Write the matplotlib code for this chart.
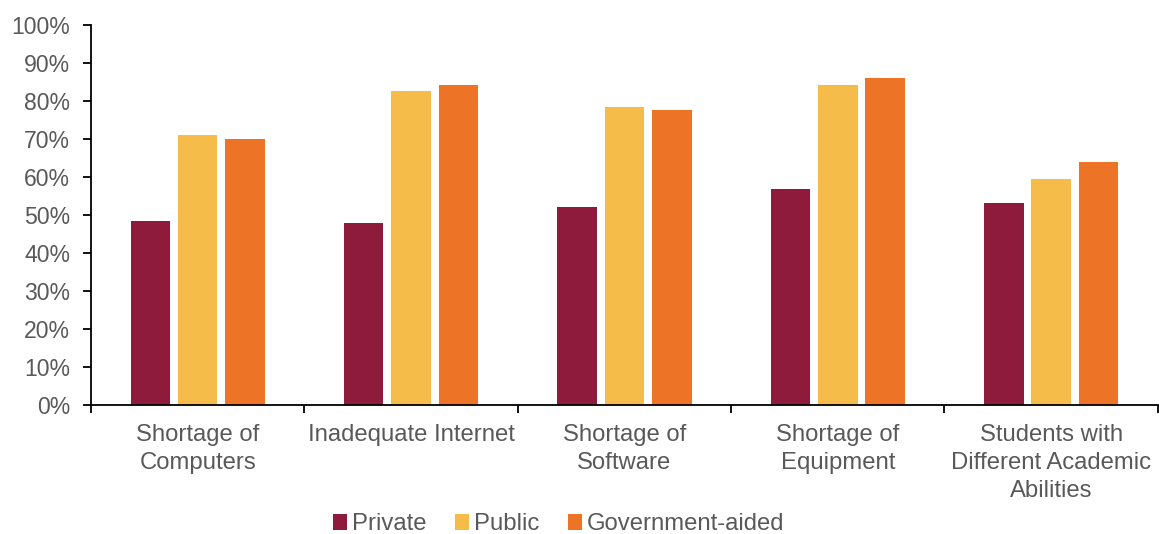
import numpy as np
import matplotlib.pyplot as plt
from matplotlib.ticker import PercentFormatter

plt.rcParams.update({'font.family': ['Liberation Sans', 'DejaVu Sans']})

categories = ["Shortage of\nComputers", "Inadequate Internet", "Shortage of\nSoftware",
              "Shortage of\nEquipment", "Students with\nDifferent Academic\nAbilities"]
private = [48.4, 47.8, 52.1, 56.8, 53.1]
public = [71.0, 82.6, 78.3, 84.3, 59.5]
govt_aided = [70.0, 84.2, 77.5, 86.1, 63.9]

series = [("Private", private, "#8E1B3B"),
          ("Public", public, "#F5BC4A"),
          ("Government-aided", govt_aided, "#ED7326")]

text_grey = "#595959"

fig = plt.figure(figsize=(11.59, 5.34), dpi=100)
ax = fig.add_axes([0.0785, 0.2416, 0.9205, 0.7116])

x = np.arange(len(categories))
step = 0.222
width = 0.185
for k, (name, vals, col) in enumerate(series):
    ax.bar(x + (k - 1) * step, vals, width, color=col, label=name)

ax.set_xlim(-0.5, len(categories) - 0.5)
ax.set_ylim(0, 100)
ax.set_yticks(np.arange(0, 101, 10))
ax.yaxis.set_major_formatter(PercentFormatter(decimals=0))

# labels sit at the centres, tick marks at the category boundaries
ax.set_xticks(x)
ax.set_xticklabels(categories, linespacing=1.33)
ax.set_xticks(np.arange(-0.5, len(categories), 1), minor=True)
ax.tick_params(axis="x", which="major", length=0, pad=14,
               labelsize=17.2, labelcolor=text_grey)
ax.tick_params(axis="x", which="minor", length=6, width=1.3, direction="out")
ax.tick_params(axis="y", length=6, width=1.3, direction="out", pad=9,
               labelsize=16.6, labelcolor=text_grey)

for s in ["top", "right"]:
    ax.spines[s].set_visible(False)
for s in ["left", "bottom"]:
    ax.spines[s].set_linewidth(1.3)
    ax.spines[s].set_color("black")

fig.legend(loc="center", bbox_to_anchor=(0.482, 0.018), ncol=3, frameon=False,
           fontsize=17.2, handlelength=0.6, handleheight=0.6,
           handletextpad=0.2, columnspacing=1.2, labelcolor=text_grey)

fig.savefig("out.png", dpi=100)
